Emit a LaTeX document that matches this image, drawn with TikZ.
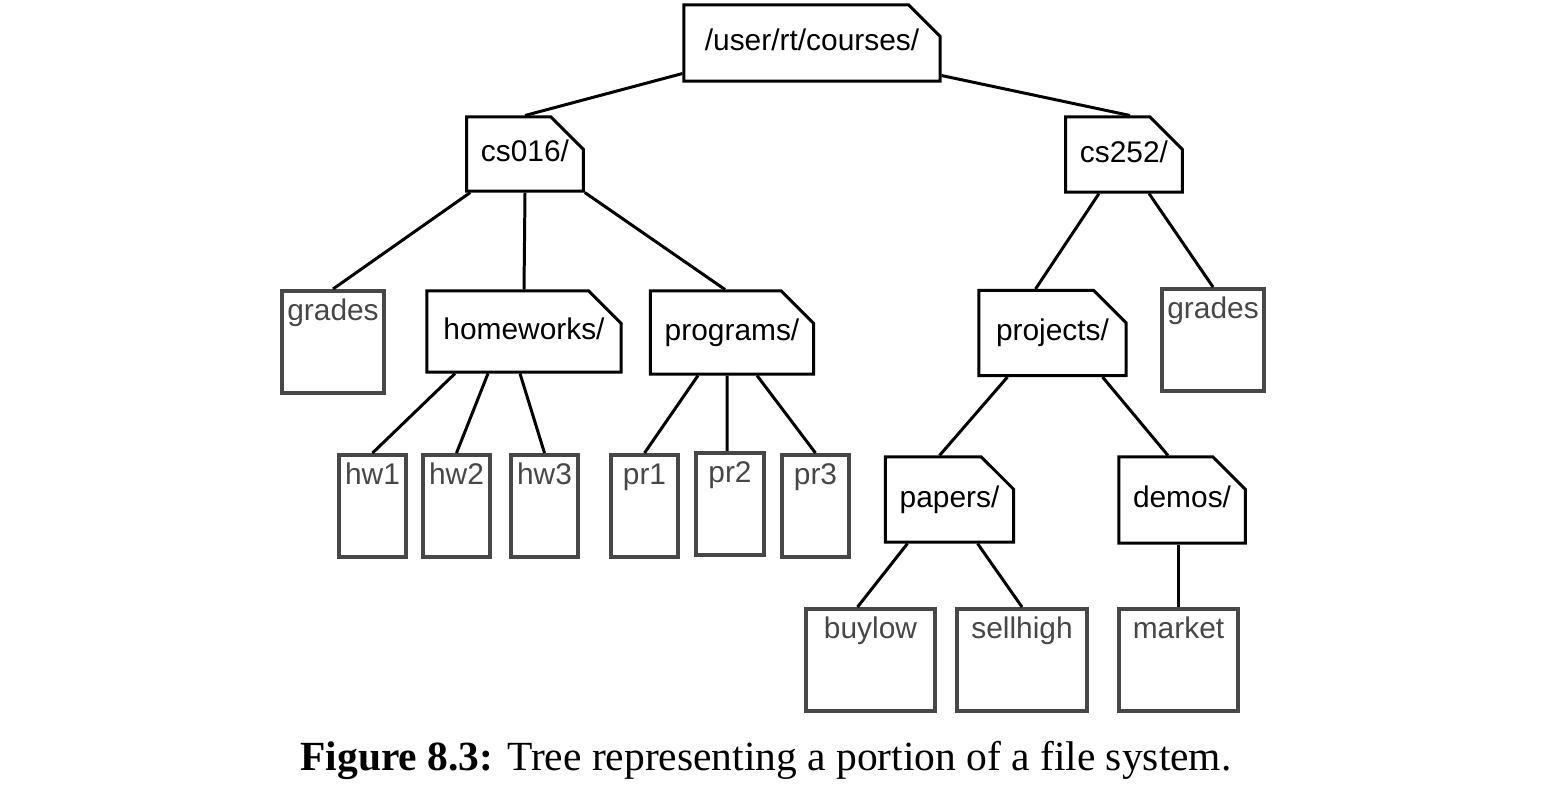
\documentclass[tikz,border=0pt]{standalone}
\usepackage{fontspec}
\setmainfont{Liberation Serif}
\setsansfont{Liberation Sans}
\usepackage{xcolor}
\usepackage{tikz}
\usetikzlibrary{shapes.misc}

\definecolor{filegray}{HTML}{474747}

\begin{document}
\begin{tikzpicture}[
  x=0.01cm, y=-0.01cm,
  font=\sffamily\fontsize{8.5}{10}\selectfont,
  folder/.style={chamfered rectangle, chamfered rectangle corners=north east,
    chamfered rectangle xsep=0.2cm, chamfered rectangle ysep=0.18cm,
    draw, line width=0.85pt, fill=white, inner sep=0pt,
    text height=6.3pt, text depth=1.8pt},
  file/.style={draw=filegray, text=filegray, line width=1.15pt, fill=white, anchor=north,
    inner xsep=0pt, inner ysep=2pt, text height=6.3pt, text depth=18.7pt},
  link/.style={line width=0.85pt}
]
\useasboundingbox (0,0) rectangle (1567,808);

% folders
\node[folder, minimum width=2.56cm, minimum height=0.76cm, chamfered rectangle xsep=0.3cm, chamfered rectangle ysep=0.17cm] (root) at (812,43) {/user/rt/courses/};
\node[folder, minimum width=1.16cm, minimum height=0.74cm] (cs016) at (525,154) {cs016/};
\node[folder, minimum width=1.16cm, minimum height=0.75cm] (cs252) at (1124,154.5) {cs252/};
\node[folder, minimum width=1.94cm, minimum height=0.81cm] (homeworks) at (524,331.5) {homeworks/};
\node[folder, minimum width=1.55cm, minimum height=0.83cm] (programs) at (732,332.5) {programs/};
\node[folder, minimum width=1.47cm, minimum height=0.85cm] (projects) at (1052.5,333) {projects/};
\node[folder, minimum width=1.18cm, minimum height=0.85cm] (papers) at (949.5,499.5) {papers/};
\node[folder, minimum width=1.22cm, minimum height=0.86cm] (demos) at (1182,500) {demos/};

% files
\node[file, minimum width=1.02cm] (gradesA) at (333,289) {grades};
\node[file, minimum width=1.02cm] (gradesB) at (1213,287) {grades};
\node[file, minimum width=0.67cm] (hw1) at (372.5,453) {hw1};
\node[file, minimum width=0.67cm] (hw2) at (456.5,453) {hw2};
\node[file, minimum width=0.67cm] (hw3) at (544.5,453) {hw3};
\node[file, minimum width=0.67cm] (pr1) at (644.5,453) {pr1};
\node[file, minimum width=0.68cm] (pr2) at (730,451) {pr2};
\node[file, minimum width=0.67cm] (pr3) at (815.5,453) {pr3};
\node[file, minimum width=1.29cm] (buylow) at (870.5,607) {buylow};
\node[file, minimum width=1.30cm] (sellhigh) at (1022,607) {sellhigh};
\node[file, minimum width=1.19cm] (market) at (1178.5,607) {market};

% tree edges
\draw[link] ([yshift=0.09cm]root.south west) -- (cs016.north);
\draw[link] ([yshift=0.07cm]root.south east) -- ([xshift=0.06cm]cs252.north);
\draw[link] ([xshift=0.05cm]cs016.south west) -- (gradesA.north);
\draw[link] (cs016.south) -- (homeworks.north);
\draw[link] (cs016.south east) -- ([xshift=-0.07cm]programs.north);
\draw[link] ([xshift=-0.25cm]cs252.south) -- ([xshift=-0.17cm]projects.north);
\draw[link] ([xshift=0.25cm]cs252.south) -- (gradesB.north);
\draw[link] ([xshift=-0.69cm]homeworks.south) -- (hw1.north);
\draw[link] ([xshift=-0.36cm]homeworks.south) -- (hw2.north);
\draw[link] ([xshift=-0.04cm]homeworks.south) -- (hw3.north);
\draw[link] ([xshift=-0.34cm]programs.south) -- (pr1.north);
\draw[link] ([xshift=-0.05cm]programs.south) -- ([xshift=-0.03cm]pr2.north);
\draw[link] ([xshift=0.25cm]programs.south) -- (pr3.north);
\draw[link] ([xshift=-0.45cm]projects.south) -- ([xshift=-0.1cm]papers.north);
\draw[link] ([xshift=0.5cm]projects.south) -- ([xshift=-0.14cm]demos.north);
\draw[link] ([xshift=-0.42cm]papers.south) -- ([xshift=-0.13cm]buylow.north);
\draw[link] ([xshift=0.28cm]papers.south) -- (sellhigh.north);
\draw[link] (market.north |- demos.south) -- (market.north);

% caption
\node[font=\rmfamily\fontsize{11.8}{14}\selectfont] (caption) at (766,760) {\textbf{Figure 8.3:} Tree representing a portion of a file system.};
\end{tikzpicture}
\end{document}
